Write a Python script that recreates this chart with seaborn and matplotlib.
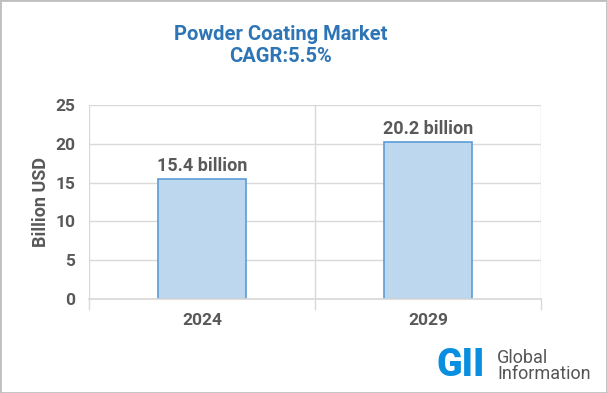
import matplotlib
matplotlib.use("Agg")
import matplotlib.pyplot as plt
import seaborn as sns
import pandas as pd
from matplotlib.patches import Rectangle

years = ["2024", "2029"]
values = [15.4, 20.2]
labels = ["15.4 billion", "20.2 billion"]
title = "Powder Coating Market\nCAGR:5.5%"

sns.set_theme(style="white")
plt.rcParams['font.family'] = ['Roboto', 'DejaVu Sans']

gray = "#595959"
df = pd.DataFrame({"year": years, "value": values})

fig = plt.figure(figsize=(6.07, 3.93), dpi=100)
ax = fig.add_axes([89/607, 1-299/393, (541-89)/607, (299-105)/393])

sns.barplot(data=df, x="year", y="value", ax=ax, color="#BDD7EE",
            edgecolor="#5B9BD5", linewidth=1.2, width=0.39, saturation=1)

ax.set_xlim(-0.5, 1.5)
ax.set_ylim(0, 25)
ax.set_yticks(range(0, 26, 5))
ax.set_xticks([-0.5, 0.5, 1.5], minor=True)
ax.grid(True, axis="y", color="#D9D9D9", linewidth=1)
ax.grid(True, axis="x", which="minor", color="#D9D9D9", linewidth=1)
ax.set_axisbelow(True)
for s in ["top", "right", "left"]:
    ax.spines[s].set_visible(False)
ax.spines["bottom"].set_color("#D9D9D9")
ax.tick_params(axis="x", which="minor", length=8, color="#D9D9D9", direction="out", bottom=True)
ax.tick_params(axis="x", which="major", length=0, pad=10)
ax.tick_params(axis="y", length=0, pad=10)
for t in ax.get_xticklabels() + ax.get_yticklabels():
    t.set_color(gray)
    t.set_fontsize(12.5)
    t.set_fontweight("bold")
ax.set_xlabel("")
ax.set_ylabel("Billion USD", color=gray, fontsize=13, fontweight="bold", labelpad=4)

for i, (v, lab) in enumerate(zip(values, labels)):
    ax.text(i, v + 0.6, lab, ha="center", va="bottom", color=gray,
            fontsize=13, fontweight="bold")

fig.text(281/607, 1-46/393, title, ha="center", va="center", color="#2E75B6",
         fontsize=14.5, fontweight="bold", linespacing=1.2)

# logo
fig.text(436/607, 1-366/393, "GII", ha="left", va="center", color="#0A8FE0",
         fontsize=27, fontweight="black")
fig.text(497/607, 1-366/393, "Global\nInformation", ha="left", va="center",
         color="#555555", fontsize=13, linespacing=0.9)

fig.patches.append(Rectangle((0, 0), 1, 1, transform=fig.transFigure, fill=False,
                             edgecolor="#BFBFBF", linewidth=2))
fig.savefig("out.png", dpi=100)
